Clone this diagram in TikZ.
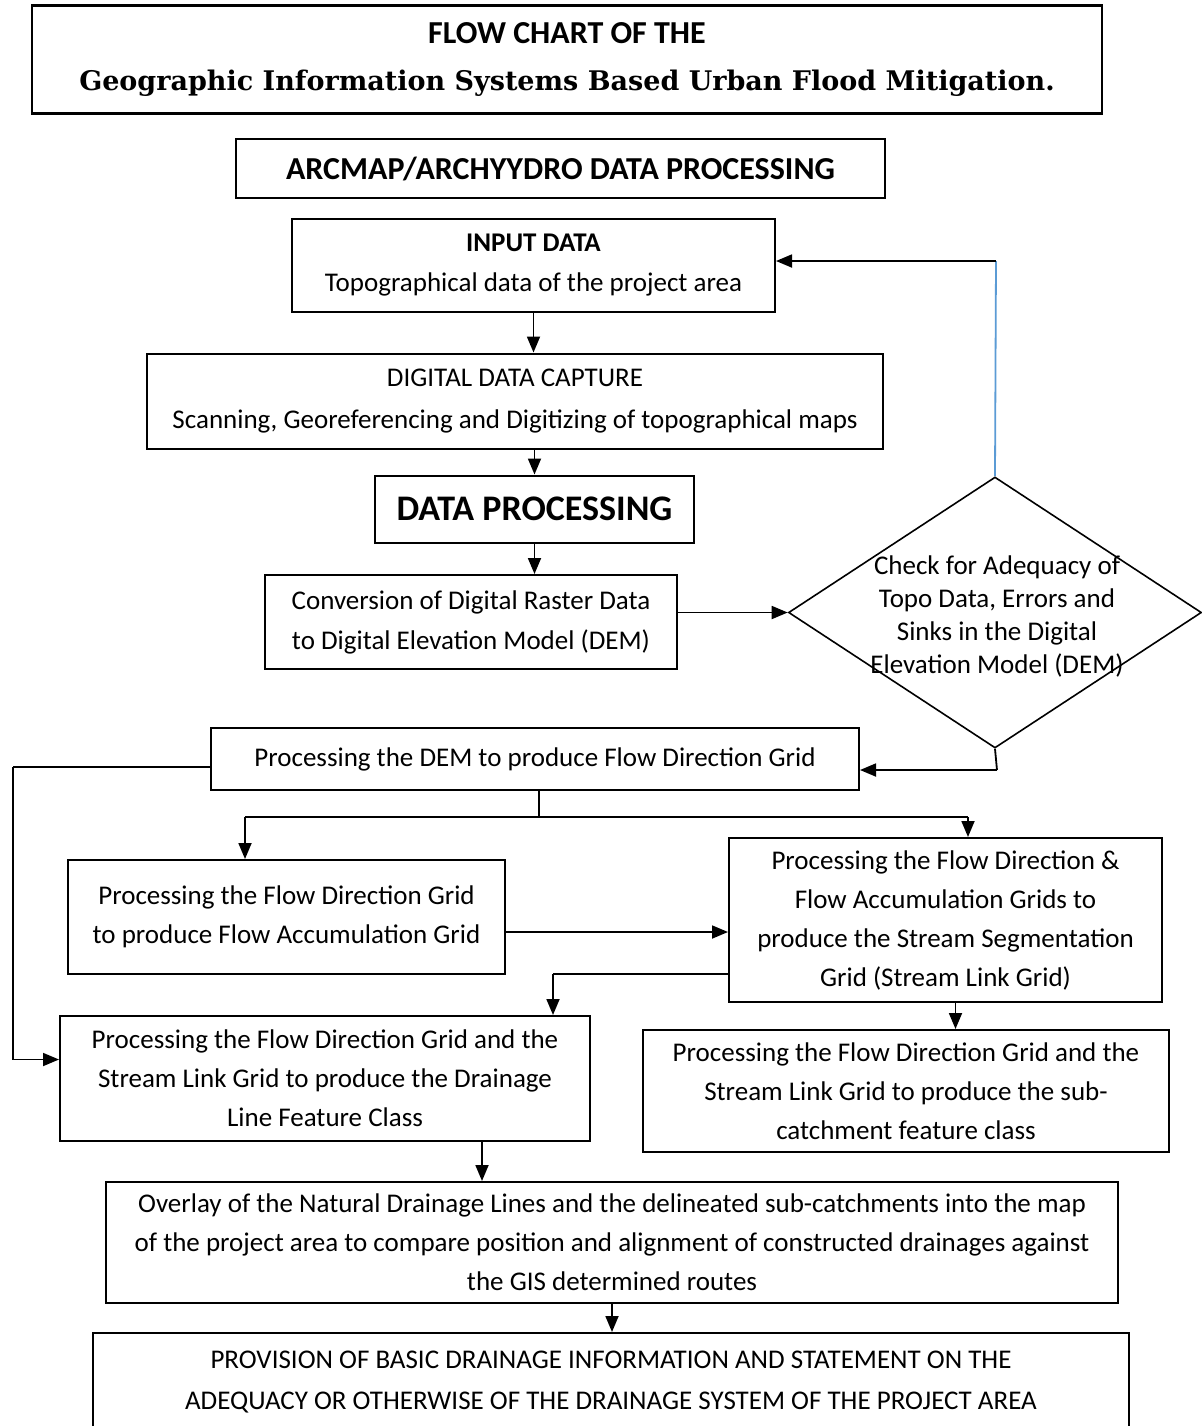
\documentclass[tikz,border=0pt]{standalone}
\usepackage{fontspec}
\setmainfont{Carlito}
\newfontfamily\bookfont{DejaVu Serif}
\usetikzlibrary{arrows.meta, shapes.geometric, calc}
\definecolor{linkblue}{RGB}{91,155,213}

\begin{document}
\begin{tikzpicture}[
        x=0.5pt, y=-0.5pt,
        box/.style={rectangle, draw=black, line width=1pt, align=center,
                    inner sep=0pt, font=\fontsize{13.5pt}{19.5pt}\selectfont},
        decision/.style={diamond, draw=black, line width=0.8pt, inner sep=0pt},
        arrow/.style={-{Triangle[length=8pt, width=6.5pt]}, line width=0.9pt},
        link/.style={line width=0.9pt},
    ]
    \useasboundingbox (0,0) rectangle (1201,1426);

    % titre
    \node[box, line width=1.2pt, minimum width=535pt, minimum height=54pt,
          font=\fontsize{16pt}{23.5pt}\selectfont] (title) at (567,59.5)
          {\bfseries FLOW CHART OF THE\\
           {\bookfont\bfseries\fontsize{13.5pt}{23.5pt}\selectfont Geographic Information Systems Based Urban Flood Mitigation.}};
    \node[box, minimum width=324.5pt, minimum height=29.5pt,
          font=\fontsize{16pt}{21pt}\selectfont\bfseries] (arcmap) at (560.5,168.5)
          {ARCMAP/ARCHYYDRO DATA PROCESSING};

    % colonne centrale
    \node[box, minimum width=241.5pt, minimum height=46.5pt,
          font=\fontsize{13.5pt}{20pt}\selectfont] (input) at (533.5,265.5)
          {\bfseries INPUT DATA\\Topographical data of the project area};
    \node[box, minimum width=368pt, minimum height=47.5pt,
          font=\fontsize{13.5pt}{21pt}\selectfont] (capture) at (515,401)
          {DIGITAL DATA CAPTURE\\Scanning, Georeferencing and Digitizing of topographical maps};
    \node[box, minimum width=159.5pt, minimum height=33.5pt,
          font=\fontsize{18pt}{21pt}\selectfont\bfseries] (dataproc) at (534.5,509)
          {DATA PROCESSING};
    \node[box, minimum width=206pt, minimum height=47pt,
          font=\fontsize{13.5pt}{20pt}\selectfont] (conv) at (471,622)
          {Conversion of Digital Raster Data\\to Digital Elevation Model (DEM)};
    \draw[arrow] (input.south) -- (input.south |- capture.north);
    \draw[arrow] (capture.south -| dataproc.north) -- (dataproc.north);
    \draw[arrow] (dataproc.south) -- (dataproc.south |- conv.north);

    % controle du MNT
    \node[decision, minimum width=206.5pt, minimum height=135.5pt] (check) at (995,612.5) {};
    \node[align=center, inner sep=0pt, font=\fontsize{13.5pt}{16.5pt}\selectfont]
          (checktext) at (997,616)
          {Check for Adequacy of\\Topo Data, Errors and\\Sinks in the Digital\\Elevation Model (DEM)};
    \draw[arrow] (conv.east |- check.west) -- (check.west);
    \coordinate (fbtop) at (996,261);
    \draw[link, linkblue] (check.north) -- (fbtop);
    \draw[arrow] (fbtop) -- (fbtop -| input.east);

    % grilles
    \node[box, minimum width=324pt, minimum height=31pt] (flowdir) at (535,759)
          {Processing the DEM to produce Flow Direction Grid};
    \coordinate (dout) at (997,770);
    \draw[link] (check.south) -- (dout);
    \draw[arrow] (dout) -- (dout -| flowdir.east);

    \node[box, minimum width=218.5pt, minimum height=57pt] (flowacc) at (286.5,917)
          {Processing the Flow Direction Grid\\to produce Flow Accumulation Grid};
    \node[box, minimum width=216.5pt, minimum height=82pt] (seg) at (945.5,920)
          {Processing the Flow Direction \&\\Flow Accumulation Grids to\\produce the Stream Segmentation\\Grid (Stream Link Grid)};
    \coordinate (fork) at (539,817);
    \coordinate (forkl) at (245,817);
    \coordinate (forkr) at (968,817);
    \draw[link] (flowdir.south -| fork) -- (fork);
    \draw[link] (forkl) -- (forkr);
    \draw[arrow] (forkl) -- (forkl |- flowacc.north);
    \draw[arrow] (forkr) -- (forkr |- seg.north);
    \draw[arrow] ([yshift=-7.5pt]flowacc.east) -- ([yshift=-7.5pt]flowacc.east -| seg.west);

    % classes d'entites
    \node[box, minimum width=265pt, minimum height=62.5pt] (drainage) at (325,1078.5)
          {Processing the Flow Direction Grid and the\\Stream Link Grid to produce the Drainage\\Line Feature Class};
    \node[box, minimum width=263pt, minimum height=61pt] (subcat) at (906,1091)
          {Processing the Flow Direction Grid and the\\Stream Link Grid to produce the sub-\\catchment feature class};
    \coordinate (dropx) at (553,974);
    \draw[link] ([yshift=-27pt]seg.west) -- (dropx);
    \draw[arrow] (dropx) -- (dropx |- drainage.north);
    \draw[arrow] ([xshift=5pt]seg.south) -- ([xshift=5pt]seg.south |- subcat.north);
    \coordinate (loopl) at (13,767);
    \draw[link] (loopl -| flowdir.west) -- (loopl);
    \draw[arrow] (loopl) |- ([yshift=9.5pt]drainage.west);

    % superposition et resultat
    \node[box, minimum width=506pt, minimum height=60.5pt] (overlay) at (612,1242.5)
          {Overlay of the Natural Drainage Lines and the delineated sub-catchments into the map\\of the project area to compare position and alignment of constructed drainages against\\the GIS determined routes};
    \node[box, minimum width=518pt, minimum height=49pt,
          font=\fontsize{13.5pt}{20.5pt}\selectfont] (final) at (611,1382)
          {PROVISION OF BASIC DRAINAGE INFORMATION AND STATEMENT ON THE\\ADEQUACY OR OTHERWISE OF THE DRAINAGE SYSTEM OF THE PROJECT AREA};
    \draw[arrow] ([xshift=78.5pt]drainage.south) -- ([xshift=78.5pt]drainage.south |- overlay.north);
    \draw[arrow] (overlay.south) -- (overlay.south |- final.north);

\end{tikzpicture}
\end{document}
